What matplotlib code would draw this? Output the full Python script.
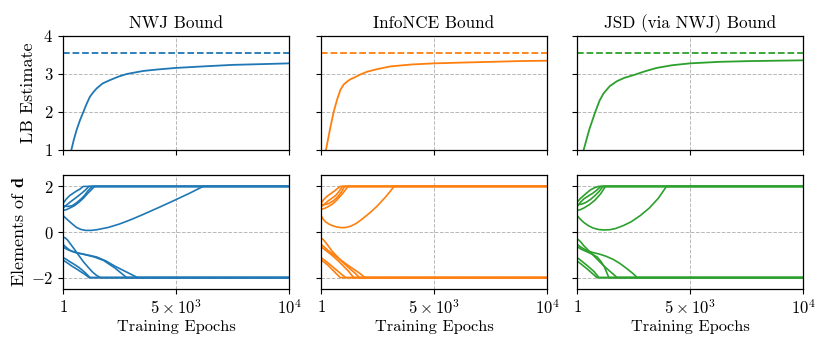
import numpy as np
import matplotlib
matplotlib.use("Agg")
import matplotlib.pyplot as plt

plt.rcParams['font.family'] = 'serif'
plt.rcParams['font.serif'] = ['cmr10']
plt.rcParams['mathtext.fontset'] = 'cm'
plt.rcParams['axes.formatter.use_mathtext'] = True

titles = ['NWJ Bound', 'InfoNCE Bound', 'JSD (via NWJ) Bound']
colors = ['tab:blue', 'tab:orange', 'tab:green']
true_mi = 3.555

# LB estimate curves (epoch, value)
lb_nwj_x = [1, 200, 370, 480, 605, 750, 900, 1050, 1190, 1340, 1490, 1750, 2080,
            2450, 2820, 3550, 4200, 5000, 6200, 7500, 8800, 10000]
lb_nwj_y = [0.2, 0.62, 1.0, 1.27, 1.53, 1.78, 2.0, 2.22, 2.4, 2.52, 2.62, 2.75, 2.84,
            2.93, 3.0, 3.08, 3.12, 3.16, 3.2, 3.24, 3.26, 3.28]
lb_nce_x = [1, 110, 220, 390, 560, 710, 858, 1000, 1154, 1300, 1450, 1750, 2041,
            2500, 3077, 4000, 5000, 6200, 7515, 8800, 10000]
lb_nce_y = [0.35, 0.68, 1.0, 1.52, 2.0, 2.32, 2.58, 2.72, 2.8, 2.86, 2.9, 2.99, 3.06,
            3.13, 3.2, 3.25, 3.28, 3.3, 3.32, 3.34, 3.35]
lb_jsd_x = [1, 150, 294, 550, 809, 1000, 1176, 1450, 1765, 2100, 2500, 3000, 3529,
            4200, 5000, 6300, 7650, 10000]
lb_jsd_y = [0.3, 0.65, 1.0, 1.55, 2.0, 2.3, 2.49, 2.68, 2.81, 2.9, 2.97, 3.07, 3.16,
            3.23, 3.28, 3.32, 3.34, 3.36]

# elements of d, one list of (epoch, value) per element
d_nwj = [
    [(1, 1.25), (150, 1.45), (300, 1.6), (450, 1.7), (600, 1.8), (750, 1.88), (900, 2.0), (10000, 2.0)],
    [(1, 1.05), (150, 1.18), (300, 1.3), (500, 1.45), (700, 1.6), (850, 1.72), (1000, 1.85), (1150, 2.0), (10000, 2.0)],
    [(1, 1.15), (200, 1.12), (400, 1.15), (600, 1.28), (800, 1.45), (950, 1.6), (1100, 1.8), (1300, 2.0), (10000, 2.0)],
    [(1, 0.95), (150, 0.98), (300, 1.05), (500, 1.15), (700, 1.3), (900, 1.48), (1100, 1.7), (1400, 2.0), (10000, 2.0)],
    [(1, 0.72), (150, 0.58), (300, 0.45), (450, 0.32), (600, 0.2), (800, 0.11), (1000, 0.07), (1250, 0.07),
     (1500, 0.1), (2000, 0.2), (2500, 0.35), (3000, 0.54), (3500, 0.75), (4250, 1.08), (5000, 1.42),
     (5600, 1.7), (6200, 2.0), (10000, 2.0)],
    [(1, -0.22), (100, -0.26), (200, -0.35), (350, -0.55), (500, -0.75), (700, -1.03), (900, -1.3),
     (1100, -1.53), (1300, -1.75), (1480, -1.9), (1660, -2.0), (10000, -2.0)],
    [(1, -0.54), (150, -0.68), (300, -0.8), (550, -0.9), (800, -0.95), (1150, -1.02), (1500, -1.1),
     (1900, -1.27), (2300, -1.5), (2800, -1.75), (3300, -2.0), (10000, -2.0)],
    [(1, -0.66), (200, -0.77), (400, -0.85), (700, -0.93), (1000, -1.0), (1400, -1.1), (1800, -1.25),
     (2300, -1.58), (2817, -2.0), (10000, -2.0)],
    [(1, -1.12), (150, -1.2), (300, -1.3), (500, -1.42), (700, -1.55), (850, -1.67), (1000, -1.8),
     (1195, -2.0), (10000, -2.0)],
    [(1, -1.23), (200, -1.36), (400, -1.5), (600, -1.62), (800, -1.75), (1000, -1.88), (1150, -2.0), (10000, -2.0)],
]
d_nce = [
    [(1, 1.25), (120, 1.42), (250, 1.55), (430, 1.68), (600, 1.8), (720, 1.9), (850, 2.0), (10000, 2.0)],
    [(1, 1.1), (150, 1.22), (300, 1.35), (480, 1.48), (650, 1.6), (800, 1.78), (950, 2.0), (10000, 2.0)],
    [(1, 1.2), (170, 1.2), (350, 1.25), (530, 1.36), (700, 1.5), (880, 1.72), (1050, 2.0), (10000, 2.0)],
    [(1, 1.0), (150, 1.03), (300, 1.1), (500, 1.22), (700, 1.4), (950, 1.68), (1200, 2.0), (10000, 2.0)],
    [(1, 0.72), (100, 0.56), (200, 0.45), (350, 0.35), (500, 0.28), (700, 0.22), (900, 0.19), (1100, 0.2),
     (1300, 0.25), (1550, 0.37), (1800, 0.55), (2150, 0.83), (2500, 1.15), (2870, 1.55), (3240, 2.0), (10000, 2.0)],
    [(1, -0.28), (100, -0.33), (200, -0.45), (350, -0.65), (500, -0.85), (700, -1.06), (900, -1.25),
     (1150, -1.43), (1400, -1.6), (1700, -1.8), (1950, -2.0), (10000, -2.0)],
    [(1, -0.54), (150, -0.66), (300, -0.8), (500, -0.95), (700, -1.1), (900, -1.27), (1100, -1.45),
     (1300, -1.63), (1500, -1.8), (1700, -2.0), (10000, -2.0)],
    [(1, -0.64), (200, -0.8), (400, -0.95), (600, -1.12), (800, -1.3), (1000, -1.5), (1200, -1.7),
     (1450, -2.0), (10000, -2.0)],
    [(1, -1.12), (150, -1.23), (300, -1.35), (450, -1.47), (600, -1.6), (750, -1.72), (900, -1.85),
     (1100, -2.0), (10000, -2.0)],
    [(1, -1.22), (150, -1.33), (300, -1.45), (450, -1.6), (600, -1.75), (850, -2.0), (10000, -2.0)],
]
d_jsd = [
    [(1, 1.3), (150, 1.47), (300, 1.6), (450, 1.73), (600, 1.85), (780, 1.94), (950, 2.0), (10000, 2.0)],
    [(1, 1.1), (150, 1.3), (300, 1.45), (500, 1.58), (700, 1.7), (880, 1.84), (1050, 2.0), (10000, 2.0)],
    [(1, 1.2), (200, 1.22), (400, 1.3), (600, 1.43), (800, 1.6), (980, 1.78), (1150, 2.0), (10000, 2.0)],
    [(1, 0.95), (150, 0.98), (300, 1.05), (550, 1.2), (800, 1.4), (1050, 1.68), (1260, 2.0), (10000, 2.0)],
    [(1, 0.72), (150, 0.56), (300, 0.42), (500, 0.28), (700, 0.18), (950, 0.11), (1190, 0.09), (1450, 0.1),
     (1700, 0.15), (2050, 0.28), (2400, 0.45), (2800, 0.72), (3200, 1.05), (3600, 1.48), (3960, 2.0), (10000, 2.0)],
    [(1, -0.28), (150, -0.42), (300, -0.6), (500, -0.8), (700, -1.0), (950, -1.25), (1200, -1.5),
     (1500, -1.76), (1780, -2.0), (10000, -2.0)],
    [(1, -0.54), (200, -0.68), (400, -0.8), (700, -0.9), (1000, -0.97), (1300, -1.07), (1600, -1.2),
     (1900, -1.38), (2200, -1.6), (2450, -1.8), (2670, -2.0), (10000, -2.0)],
    [(1, -0.64), (200, -0.76), (400, -0.85), (650, -0.96), (900, -1.1), (1050, -1.28), (1200, -1.5),
     (1410, -2.0), (10000, -2.0)],
    [(1, -1.12), (150, -1.23), (300, -1.35), (450, -1.47), (600, -1.6), (750, -1.73), (850, -1.85),
     (970, -2.0), (10000, -2.0)],
    [(1, -1.27), (150, -1.38), (300, -1.5), (450, -1.62), (600, -1.75), (750, -1.88), (880, -2.0), (10000, -2.0)],
]

lb_x = [lb_nwj_x, lb_nce_x, lb_jsd_x]
lb_y = [lb_nwj_y, lb_nce_y, lb_jsd_y]
d_all = [d_nwj, d_nce, d_jsd]

fig = plt.figure(figsize=(8.3, 3.46), dpi=100)
lefts = [63, 321, 577]
W, H = 830.0, 346.0
for i in range(3):
    ax1 = fig.add_axes([lefts[i] / W, 1 - 150 / H, 226 / W, 114 / H])
    ax2 = fig.add_axes([lefts[i] / W, 1 - 289 / H, 226 / W, 114 / H])
    c = colors[i]

    ax1.plot(lb_x[i], lb_y[i], color=c, lw=1.3)
    ax1.axhline(true_mi, color=c, ls='--', lw=1.3)
    ax1.set_ylim(1, 4)
    ax1.set_yticks([1, 2, 3, 4])
    ax1.set_title(titles[i], fontsize=12.3, pad=6)

    for line in d_all[i]:
        xs = [p[0] for p in line]
        ys = [p[1] for p in line]
        ax2.plot(xs, ys, color=c, lw=1.2)
    ax2.set_ylim(-2.5, 2.5)
    ax2.set_yticks([-2, 0, 2])
    ax2.set_xlabel('Training Epochs', fontsize=11.8, labelpad=2)

    for ax in (ax1, ax2):
        ax.set_xlim(1, 10000)
        ax.set_xticks([1, 5000, 10000])
        ax.grid(True, ls='--', color='#b8b8b8', lw=0.7)
        ax.tick_params(labelsize=12, length=3.5, width=0.8)
        for s in ax.spines.values():
            s.set_linewidth(0.9)
    ax1.set_xticklabels([])
    ax2.set_xticklabels(['$1$', r'$5\times10^3$', '$10^4$'])
    if i == 0:
        ax1.set_ylabel('LB Estimate', fontsize=13, labelpad=5)
        ax1.set_yticklabels(['$1$', '$2$', '$3$', '$4$'])
        ax2.set_ylabel(r'Elements of $\mathbf{d}$', fontsize=13, labelpad=3)
        ax2.set_yticklabels(['$-2$', '$0$', '$2$'])
    else:
        ax1.set_yticklabels([])
        ax2.set_yticklabels([])

fig.savefig('out.png', dpi=100)
